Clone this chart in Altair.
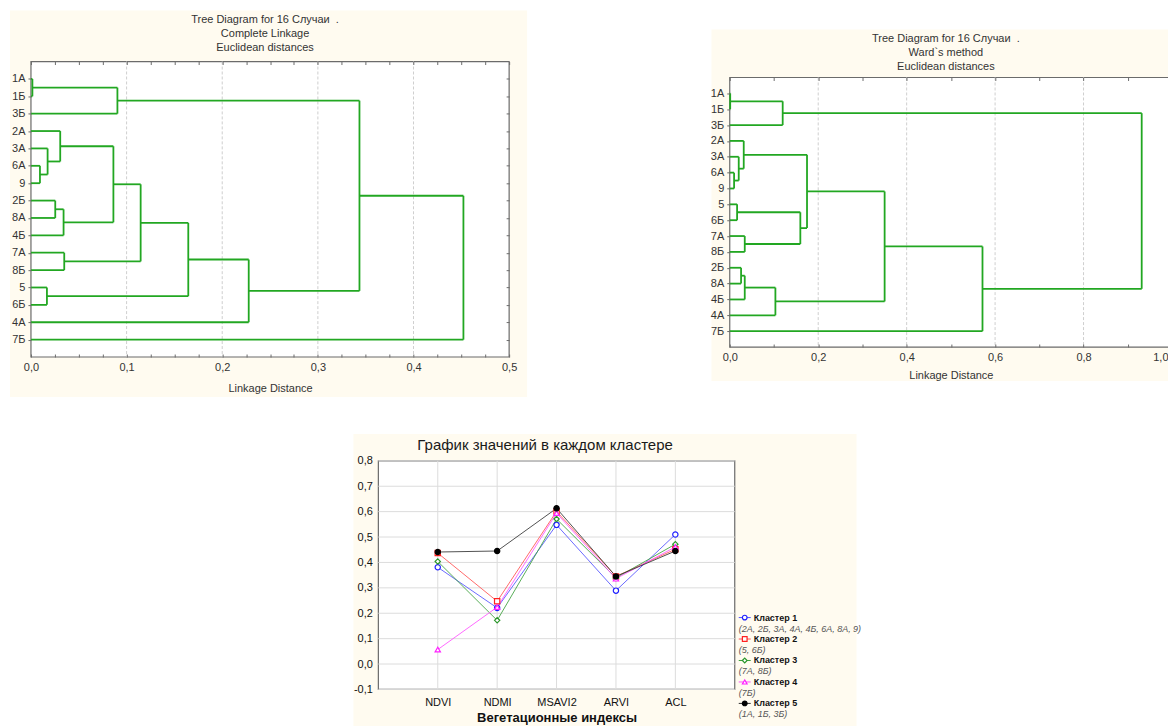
import json
import altair as alt
import pandas as pd

FONT = "Arial"
CREAM = "#FFFBF0"
FRAME = "#6b6b6b"
GREEN = "#22a722"
TXT = "#333333"

# ---------------- data: complete linkage dendrogram ----------------
leaves_complete = ["1А", "1Б", "3Б", "2А", "3А", "6А", "9", "2Б", "8А", "4Б", "7А", "8Б", "5", "6Б", "4А", "7Б"]
merge_a_complete = ["1А", "#0", "6А", "3А", "2А", "2Б", "#5", "#4", "7А", "#7", "5", "#9", "#11", "#1", "#13"]
merge_b_complete = ["1Б", "3Б", "9", "#2", "#3", "8А", "4Б", "#6", "8Б", "#8", "6Б", "#10", "4А", "#12", "7Б"]
merge_h_complete = [0.0015, 0.0904, 0.0094, 0.0174, 0.0306, 0.0254, 0.0341, 0.0862,
                    0.0348, 0.1147, 0.0167, 0.1645, 0.2277, 0.3435, 0.4522]
ticks_complete = [0.0, 0.025, 0.05, 0.075, 0.1, 0.125, 0.15, 0.175, 0.2, 0.225, 0.25,
                  0.275, 0.3, 0.325, 0.35, 0.375, 0.4, 0.425, 0.45, 0.475, 0.5]
grid_complete = [0.1, 0.2, 0.3, 0.4]

# ---------------- data: Ward dendrogram ----------------
leaves_ward = ["1А", "1Б", "3Б", "2А", "3А", "6А", "9", "5", "6Б", "7А", "8Б", "2Б", "8А", "4Б", "4А", "7Б"]
merge_a_ward = ["1А", "#0", "6А", "3А", "2А", "5", "7А", "#5", "#4", "2Б", "#9", "#10", "#8", "#12", "#1"]
merge_b_ward = ["1Б", "3Б", "9", "#2", "#3", "6Б", "8Б", "#6", "#7", "8А", "4Б", "4А", "#11", "7Б", "#13"]
merge_h_ward = [0.001, 0.1197, 0.0098, 0.0203, 0.0316, 0.0166, 0.0339, 0.1596,
                0.1747, 0.0256, 0.0339, 0.1032, 0.3502, 0.5715, 0.9315]
ticks_ward = [0.0, 0.1, 0.2, 0.3, 0.4, 0.5, 0.6, 0.7, 0.8, 0.9, 1.0]
grid_ward = [0.2, 0.4, 0.6, 0.8]

# ---------------- data: cluster means ----------------
indices = ["NDVI", "NDMI", "MSAVI2", "ARVI", "ACL"]
clusters = ["Кластер 1", "Кластер 2", "Кластер 3", "Кластер 4", "Кластер 5"]
members = ["(2А, 2Б, 3А, 4А, 4Б, 6А, 8А, 9)", "(5, 6Б)", "(7А, 8Б)", "(7Б)", "(1А, 1Б, 3Б)"]
k1 = [0.381, 0.221, 0.548, 0.289, 0.510]
k2 = [0.437, 0.247, 0.601, 0.345, 0.452]
k3 = [0.404, 0.172, 0.571, 0.339, 0.472]
k4 = [0.057, 0.224, 0.594, 0.336, 0.461]
k5 = [0.441, 0.445, 0.613, 0.345, 0.445]
y_ticks = [-0.1, 0.0, 0.1, 0.2, 0.3, 0.4, 0.5, 0.6, 0.7, 0.8]

line_colors = ["#5050ff", "#ff5050", "#3c9f3c", "#ff50ff", "#333333"]
marker_colors = ["#2020ff", "#ff2020", "#2a962a", "#ff20ff", "#000000"]
marker_fill = ["white", "white", "white", "white", "#000000"]
marker_shape = ["circle", "square", "diamond", "triangle-up", "circle"]

one = pd.DataFrame({"k": [0]})


def box(x1, x2, y1, y2, **kw):
    return alt.Chart(one).mark_rect(**kw).encode(
        x=alt.value(x1), x2=alt.value(x2), y=alt.value(y1), y2=alt.value(y2))


def dendro_table(leaves, ma, mb, mh):
    node = {name: (0.0, float(i)) for i, name in enumerate(leaves)}
    rows = []
    for k, (a, b, h) in enumerate(zip(ma, mb, mh)):
        ha, ya = node[a]
        hb, yb = node[b]
        rows.append({"x": ha, "x2": h, "y": ya, "y2": ya})
        rows.append({"x": hb, "x2": h, "y": yb, "y2": yb})
        rows.append({"x": h, "x2": h, "y": ya, "y2": yb})
        node["#%d" % k] = (h, (ya + yb) / 2)
    return pd.DataFrame(rows)


def dendrogram(leaves, ma, mb, mh, xmax, tick_vals, grid_vals, inv, W, top, H, cream,
               title_lines, label_pad, title_pad, last_right=False):
    seg = dendro_table(leaves, ma, mb, mh)
    xs = alt.Scale(domain=[0, xmax], nice=False, zero=False)
    ys = alt.Scale(domain=[-1, len(leaves)], range=[top, H], nice=False, zero=False)
    major = f"abs(datum.value*{inv} - round(datum.value*{inv})) < 0.001"
    lab = f"{major} ? replace(format(datum.value, '.1f'), '.', ',') : ''"
    names = json.dumps(leaves, ensure_ascii=False)
    extra = {}
    if last_right:
        test = f"datum.value >= {xmax} - 0.0001"
        extra = dict(
            labelAlign={"condition": {"test": test, "value": "right"}, "value": "center"},
            labelOffset={"condition": {"test": test, "value": -4}, "value": 0},
        )
    layers = [
        box(*cream, color=CREAM),
        box(0, W, top, H, fill="white", stroke=FRAME, strokeWidth=1.2),
        alt.Chart(pd.DataFrame({"g": grid_vals})).mark_rule(
            color="#cfcfcf", strokeDash=[3, 2], strokeWidth=1
        ).encode(x=alt.X("g:Q", scale=xs, axis=None), y=alt.value(top), y2=alt.value(H)),
        alt.Chart(seg).mark_rule(color=GREEN, strokeWidth=1.8).encode(
            x=alt.X("x:Q", scale=xs, axis=alt.Axis(
                orient="bottom", values=tick_vals, labelExpr=lab, tickSize=3, offset=-3,
                domain=False, grid=False, labelPadding=label_pad, labelFlush=False,
                labelOverlap=False, labelFontSize=11, labelColor=TXT, tickColor=FRAME,
                title="Linkage Distance", titleFontWeight="normal", titleFontSize=11,
                titleColor=TXT, titlePadding=title_pad, zindex=1, **extra)),
            x2="x2:Q",
            y=alt.Y("y:Q", scale=ys, axis=alt.Axis(
                orient="left", values=list(range(len(leaves))),
                labelExpr=f"{names}[datum.value]", tickSize=3, domain=False, grid=False,
                labelPadding=3, labelFontSize=11, labelColor=TXT, tickColor=FRAME,
                title=None, zindex=1)),
            y2="y2:Q",
        ),
    ]
    leaf_df = pd.DataFrame({"idx": list(range(len(leaves))), "zero": [0.0] * len(leaves)})
    layers.append(
        alt.Chart(leaf_df).mark_point(opacity=0).encode(
            x=alt.X("zero:Q", scale=xs, axis=alt.Axis(
                orient="top", values=tick_vals, labels=False, tickSize=3, offset=-(top + 3),
                domain=False, grid=False, tickColor=FRAME, title=None, zindex=1)),
            y=alt.Y("idx:Q", scale=ys, axis=alt.Axis(
                orient="right", values=list(range(len(leaves))), labels=False,
                tickSize=3, offset=-3, domain=False, grid=False, tickColor=FRAME,
                title=None, zindex=1)),
        )
    )
    return alt.layer(*layers).resolve_axis(x="independent", y="independent").properties(
        width=W, height=H,
        title=alt.TitleParams(text=title_lines, fontSize=11, font=FONT, fontWeight="normal",
                              color=TXT, anchor="middle", frame="group",
                              offset=-42.5, dx=-5, lineHeight=14),
    )


left = dendrogram(leaves_complete, merge_a_complete, merge_b_complete, merge_h_complete,
                  0.5, ticks_complete, grid_complete, 10, 479, 0, 296, (-21, 497, -51, 336),
                  ["Tree Diagram for 16 Случаи\u00a0\u00a0.", "Complete Linkage", "Euclidean distances"],
                  5, 10)
right = dendrogram(leaves_ward, merge_a_ward, merge_b_ward, merge_h_ward,
                   1.0, ticks_ward, grid_ward, 5, 443, 16, 286, (-18.3, 460.7, -32, 320),
                   ["Tree Diagram for 16 Случаи\u00a0\u00a0.", "Ward`s method", "Euclidean distances"],
                   4, 8, last_right=True)

# ---------------- line chart ----------------
rows = []
for c, vals in zip(clusters, [k1, k2, k3, k4, k5]):
    for p, (ix, v) in enumerate(zip(indices, vals)):
        rows.append({"cluster": c, "index": ix, "pos": p, "value": v})
long = pd.DataFrame(rows)

X0, X1, H3 = 348, 705, 229
xs3 = alt.Scale(type="point", domain=indices, padding=1, range=[X0, X1])
ys3 = alt.Scale(domain=[-0.1, 0.8], nice=False, zero=False)
cscale = alt.Scale(domain=clusters, range=line_colors)
sscale = alt.Scale(domain=clusters, range=marker_colors)
fscale = alt.Scale(domain=clusters, range=marker_fill)
shscale = alt.Scale(domain=clusters, range=marker_shape)
ylab = "replace(replace(format(datum.value, '.1f'), '.', ','), '\u2212', '-')"

leg_df = pd.DataFrame({"cluster": clusters, "members": members, "i": list(range(len(clusters)))})
leg_base = alt.Chart(leg_df).transform_calculate(py="157 + datum.i * 21.5")
leg_y = alt.Y("py:Q", scale=None, axis=None)

line_chart = alt.layer(
    box(323, 827, -27, 279, color=CREAM),
    box(X0, X1, 0, H3, fill="white", stroke=FRAME, strokeWidth=1.2),
    alt.Chart(pd.DataFrame({"index": indices})).mark_rule(color="#dcdcdc", strokeWidth=1).encode(
        x=alt.X("index:N", scale=xs3, axis=None)),
    alt.Chart(pd.DataFrame({"t": y_ticks})).mark_rule(color="#dcdcdc", strokeWidth=1).encode(
        y=alt.Y("t:Q", scale=ys3, axis=None), x=alt.value(X0), x2=alt.value(X1)),
    alt.Chart(long).mark_line(strokeWidth=1, opacity=0.85).encode(
        x=alt.X("index:N", scale=xs3, axis=alt.Axis(
            orient="bottom", labelAngle=0, ticks=False, domain=False, grid=False,
            labelPadding=7, labelFontSize=11, labelColor="#111",
            title="Вегетационные индексы", titleFontSize=13, titleFontWeight="bold",
            titleColor="#111", titlePadding=4, zindex=1)),
        y=alt.Y("value:Q", scale=ys3, axis=alt.Axis(
            orient="left", values=y_ticks, labelExpr=ylab, ticks=False, domain=False,
            grid=False, labelPadding=6, labelFontSize=11, labelColor="#111", title=None,
            offset=-X0, zindex=1)),
        color=alt.Color("cluster:N", scale=cscale, legend=None),
        detail="cluster:N",
        order=alt.Order("pos:Q"),
    ),
    alt.Chart(long).mark_point(size=28, strokeWidth=1.2, opacity=1).encode(
        x=alt.X("index:N", scale=xs3, axis=None),
        y=alt.Y("value:Q", scale=ys3, axis=None),
        shape=alt.Shape("cluster:N", scale=shscale, legend=None),
        stroke=alt.Stroke("cluster:N", scale=sscale, legend=None),
        fill=alt.Fill("cluster:N", scale=fscale, legend=None),
    ),
    leg_base.mark_rule(strokeWidth=1).encode(
        x=alt.value(X0 + 361), x2=alt.value(X0 + 373), y=leg_y,
        color=alt.Color("cluster:N", scale=sscale, legend=None)),
    leg_base.mark_point(size=22, strokeWidth=1.2, opacity=1).encode(
        x=alt.value(X0 + 367), y=leg_y,
        shape=alt.Shape("cluster:N", scale=shscale, legend=None),
        stroke=alt.Stroke("cluster:N", scale=sscale, legend=None),
        fill=alt.Fill("cluster:N", scale=fscale, legend=None)),
    leg_base.mark_text(align="left", baseline="middle", fontWeight="bold",
                       fontSize=9, color="#111").encode(
        x=alt.value(X0 + 376), y=leg_y, text="cluster:N"),
    leg_base.mark_text(align="left", baseline="middle", fontStyle="italic",
                       fontSize=9, color="#555", dy=11).encode(
        x=alt.value(X0 + 361), y=leg_y, text="members:N"),
).resolve_axis(x="independent", y="independent").properties(
    width=X1, height=H3,
    title=alt.TitleParams(text="График значений в каждом кластере", fontSize=15, font=FONT,
                          fontWeight="normal", color="#1a1a1a", anchor="middle",
                          frame="group", offset=-19, dx=162.5),
)

chart = alt.vconcat(
    alt.hconcat(left, right, spacing=183),
    line_chart,
    spacing=37,
).properties(
    padding={"left": 2, "top": 2, "right": -22, "bottom": -14},
).configure(font=FONT).configure_view(stroke=None)

chart.save("out.html", embed_options={"renderer": "svg", "actions": False})
